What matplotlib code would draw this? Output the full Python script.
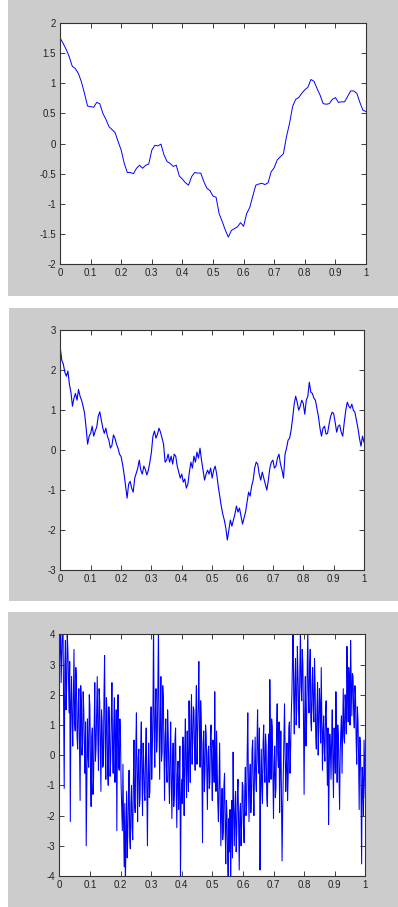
import matplotlib.pyplot as plt
import numpy as np
from matplotlib.patches import Rectangle

# 三条曲线的采样值（x 在 [0,1] 上等间隔取点）
curve1 = [1.75, 1.66, 1.56, 1.44, 1.28, 1.24, 1.16, 1.02, 0.83, 0.62,
	0.61, 0.60, 0.68, 0.66, 0.50, 0.40, 0.28, 0.23, 0.18, 0.03,
	-0.11, -0.33, -0.48, -0.48, -0.50, -0.41, -0.36, -0.41, -0.36, -0.34,
	-0.11, -0.03, -0.04, -0.01, -0.19, -0.30, -0.33, -0.38, -0.36, -0.54,
	-0.59, -0.65, -0.69, -0.55, -0.48, -0.49, -0.49, -0.63, -0.74, -0.78,
	-0.87, -0.89, -1.16, -1.29, -1.43, -1.55, -1.44, -1.41, -1.38, -1.31,
	-1.37, -1.16, -1.06, -0.87, -0.69, -0.67, -0.66, -0.68, -0.65, -0.47,
	-0.40, -0.27, -0.22, -0.17, 0.11, 0.33, 0.61, 0.73, 0.76, 0.83,
	0.89, 0.93, 1.06, 1.03, 0.91, 0.80, 0.66, 0.65, 0.66, 0.73,
	0.76, 0.68, 0.69, 0.69, 0.78, 0.87, 0.87, 0.83, 0.68, 0.55,
	0.53]

curve2 = [2.55, 2.25, 2.15, 1.95, 1.85, 1.98, 1.65, 1.45, 1.10, 1.30,
	1.42, 1.25, 1.52, 1.35, 1.25, 1.10, 0.92, 0.55, 0.15, 0.35,
	0.42, 0.60, 0.35, 0.48, 0.58, 0.85, 0.96, 0.75, 0.55, 0.42,
	0.55, 0.35, 0.25, 0.05, 0.12, 0.38, 0.30, 0.15, 0.05, -0.10,
	-0.16, -0.35, -0.60, -0.90, -1.20, -0.85, -0.78, -0.95, -1.05, -0.70,
	-0.58, -0.45, -0.25, -0.50, -0.60, -0.40, -0.48, -0.62, -0.50, -0.30,
	-0.05, 0.35, 0.48, 0.30, 0.40, 0.55, 0.45, 0.30, 0.15, -0.30,
	-0.25, -0.10, -0.30, -0.15, -0.35, -0.10, -0.15, -0.40, -0.55, -0.70,
	-0.60, -0.80, -0.72, -0.95, -0.85, -0.55, -0.30, -0.45, -0.15, -0.30,
	-0.05, -0.20, 0.05, -0.25, -0.50, -0.75, -0.60, -0.50, -0.60, -0.45,
	-0.70, -0.50, -0.40, -0.60, -0.90, -1.15, -1.40, -1.60, -1.75, -1.95,
	-2.25, -2.00, -1.75, -1.90, -1.75, -1.60, -1.40, -1.55, -1.45, -1.65,
	-1.85, -1.70, -1.55, -1.30, -1.05, -1.15, -0.90, -0.75, -0.45, -0.30,
	-0.35, -0.60, -0.75, -0.55, -0.70, -0.85, -1.00, -0.75, -0.45, -0.30,
	-0.25, -0.45, -0.40, -0.20, -0.10, -0.35, -0.50, -0.70, -0.10, 0.05,
	0.25, 0.30, 0.50, 0.80, 1.15, 1.35, 1.20, 1.00, 1.10, 1.25,
	1.17, 0.90, 1.25, 1.35, 1.70, 1.45, 1.42, 1.30, 1.25, 1.05,
	0.84, 0.55, 0.35, 0.55, 0.60, 0.40, 0.42, 0.65, 0.84, 0.95,
	0.92, 0.70, 0.45, 0.60, 0.63, 0.45, 0.35, 0.70, 1.00, 1.20,
	1.10, 1.05, 1.15, 1.00, 0.95, 0.75, 0.55, 0.30, 0.10, 0.35,
	0.20]

curve3 = [2.7, 3.6, 4.3, 2.4, 3.2, 4.1, 4.5, 1.8, -1.1, 2.9, 3.8, 1.5, 2.2, 4.0, 3.5, 2.6, 1.4, 3.1, -2.2, 1.7,
	2.6, 1.2, 0.3, 2.0, 3.5, 1.1, 0.8, 2.9, 2.5, 0.6, 0.2, 1.7, 2.2, 0.5, -1.5, 2.3, 1.8, 0.0, 0.4, 2.1,
	1.5, 0.3, -0.6, 1.1, -3.0, -0.9, 1.2, 0.0, -0.4, 2.0, 1.6, -0.5, -1.7, 0.6, 0.9, -1.3, -0.8, 1.0, 2.4, -0.2,
	0.2, 1.4, 2.6, 0.5, -0.5, 2.2, 1.8, 0.2, -1.2, 1.5, 1.1, -0.4, -0.3, 2.0, 3.3, 0.4, -0.8, 1.9, 1.4, -0.6,
	-1.0, 1.6, 0.9, -0.7, -0.2, 1.3, 2.4, 0.3, -0.6, 1.0, 1.9, -0.9, 0.1, 1.5, -2.5, 0.8, 2.0, -0.4, -0.5, 1.2,
	0.6, -1.0, -1.8, -2.5, -0.3, -2.2, -3.7, -1.6, -4.3, -2.8, -1.2, -3.4, -2.6, -1.4, -0.5, -2.7, -3.1, -1.6, -1.0, -2.4,
	-2.8, -0.9, 0.5, -1.6, -1.9, 0.2, 1.4, -0.8, -2.2, -0.1, 0.2, -1.7, -1.4, 0.3, 1.1, -0.7, -2.0, 0.4, -0.2, -1.3,
	-1.5, 0.1, 0.9, -1.0, -3.0, -0.6, 0.4, -1.4, -1.2, 0.5, 1.6, -0.8, 0.2, 1.4, 4.5, 0.9, -0.4, 1.5, 2.2, 0.1,
	0.5, 2.1, 4.3, 1.0, -0.8, 1.3, 2.6, -0.2, 0.1, 2.3, 1.9, 0.3, -1.5, 0.6, 1.2, -0.4, -0.9, 1.5, 0.7, -0.7,
	-1.6, 0.0, 1.1, -0.9, -2.1, -0.4, 0.4, -1.7, -1.3, 0.5, 0.9, -1.1, -2.4, -0.6, -0.2, -1.8, -1.0, 0.3, -4.2, -1.5,
	-0.8, -1.6, 0.6, -0.5, -2.0, 0.2, 1.2, -0.6, -1.4, 0.8, -0.3, -1.2, 1.8, 0.3, -0.9, 1.1, 2.0, -0.3, 0.4, 1.6,
	1.5, 0.2, -0.5, 1.3, 2.3, -0.3, 0.6, 1.7, 3.1, 0.9, -0.4, 1.8, 1.2, -0.5, -2.9, 0.4, 0.8, -1.2, -0.6, 1.0,
	0.7, -0.6, -1.8, 0.1, 0.3, -1.1, -0.9, 0.6, 1.0, -0.4, -1.5, 0.5, 0.2, -0.9, 2.1, 0.0, -1.2, 0.8, -0.4, -1.6,
	-2.2, -0.8, 0.4, -1.5, -3.0, -1.9, -1.1, -2.8, -2.5, -1.0, -0.6, -2.4, -3.6, -1.5, -2.0, -3.3, -4.3, -2.1, -3.2, -1.8,
	-4.2, -2.6, -1.5, -3.4, 0.1, -1.7, -3.0, -1.9, -1.2, -3.2, -2.6, -1.3, -0.8, -2.2, -3.8, -1.9, -1.6, -3.0, -2.3, -0.9,
	-1.0, -2.3, -2.9, -1.2, -0.4, -2.0, -1.8, 0.1, 1.4, -0.9, -2.2, -0.8, -0.3, -1.9, -1.3, 0.2, 0.5, -1.1, -2.0, -0.5,
	0.6, -0.8, -1.2, 0.4, 1.5, -0.2, -0.6, 0.9, -3.8, -1.0, 0.2, -1.1, -1.6, 0.4, 1.0, -0.5, -0.9, 0.7, 0.3, -1.4,
	-1.7, -0.2, 0.7, -0.9, 2.5, 0.6, -0.8, 1.2, 0.9, -0.6, -2.1, -0.3, 0.3, -1.4, -1.1, 0.8, 1.7, 0.0, -0.4, 1.1,
	-1.9, -0.4, 0.8, -1.2, -3.5, -1.8, -0.6, 0.6, 1.7, 0.1, -1.2, -0.3, 0.4, -1.5, -0.7, 0.9, 1.1, -0.6, 0.2, 1.3,
	2.0, 3.1, 4.4, 1.9, 0.7, 2.5, 3.2, 1.0, 1.5, 3.6, 2.7, 1.6, 0.9, 2.8, 4.2, 2.3, 1.8, 3.5, 3.0, 1.2,
	-1.3, 1.4, 2.6, 0.3, 1.0, 2.8, 4.3, 2.0, 1.4, 2.9, 3.5, 1.1, 0.8, 2.4, 2.9, 1.5, 1.1, 3.2, 2.3, 0.6,
	0.2, 1.5, 2.4, 0.0, 0.9, 2.2, 1.6, 0.4, 2.9, 1.2, -0.5, 0.8, 1.3, 0.1, -0.2, 1.4, 1.8, 0.3, -1.0, 0.9,
	-2.3, -0.6, 0.7, 0.2, -0.8, 0.5, 1.5, -0.3, -1.4, 0.9, 0.3, -0.6, 2.1, 0.4, -0.9, 1.0, 0.6, -0.7, -1.8, 0.1,
	0.8, 1.3, -0.6, 0.9, 2.2, 0.6, 0.4, 2.0, 1.6, 0.7, 3.6, 2.2, 1.1, 2.9, 2.4, 1.0, 3.8, 2.4, 1.3, 2.7,
	2.6, 1.4, 0.9, 2.3, 2.0, 0.5, -0.3, 1.6, 1.2, 0.0, -1.8, 0.6, 0.4, -1.2, -3.6, -0.4, -0.9, -2.0, 0.5, -0.5,
	-1.4]

ylims = [(-2, 2), (-3, 3), (-4, 4)]
yticks = [[-2, -1.5, -1, -0.5, 0, 0.5, 1, 1.5, 2],
	[-3, -2, -1, 0, 1, 2, 3],
	[-4, -3, -2, -1, 0, 1, 2, 3, 4]]
xticks = [0, 0.1, 0.2, 0.3, 0.4, 0.5, 0.6, 0.7, 0.8, 0.9, 1]

plt.rcParams['font.family'] = ['Liberation Sans', 'DejaVu Sans']
plt.rcParams['axes.unicode_minus'] = False

W, H = 398.0, 907.0
fig = plt.figure(figsize=(W / 100, H / 100), dpi=100)
fig.patch.set_facecolor('white')

# 灰色底板 (左, 上, 右, 下) 像素
panels = [(8, 0, 398, 296), (9, 308, 398, 601), (8, 612, 398, 907)]
# 坐标轴区域 (左, 上, 右, 下) 像素
boxes = [(60, 22.7, 366, 264.3), (60.3, 330.3, 364, 570), (59.3, 634.3, 365.3, 876)]

for (l, t, r, b) in panels:
	fig.add_artist(Rectangle((l / W, 1 - b / H), (r - l) / W, (b - t) / H,
		transform=fig.transFigure, facecolor='#cccccc', edgecolor='none', zorder=0))

data = [curve1, curve2, curve3]
widths = [0.7, 0.8, 0.75]
for i in range(3):
	l, t, r, b = boxes[i]
	ax = fig.add_axes([l / W, 1 - b / H, (r - l) / W, (b - t) / H])
	y = data[i]
	x = np.linspace(0, 1, len(y))
	ax.plot(x, y, '-', color='#0000ff', linewidth=widths[i])
	ax.set_xlim(0, 1)
	ax.set_ylim(ylims[i])
	ax.set_xticks(xticks)
	ax.set_xticklabels(['%g' % v for v in xticks])
	ax.set_yticks(yticks[i])
	ax.set_yticklabels(['%g' % v for v in yticks[i]])
	ax.tick_params(direction='in', top=True, right=True, length=3.5, width=0.6,
		labelsize=7, pad=3, colors='#222222')
	for s in ax.spines.values():
		s.set_color('#333333')
		s.set_linewidth(0.8)

fig.savefig('out.png', dpi=100)
